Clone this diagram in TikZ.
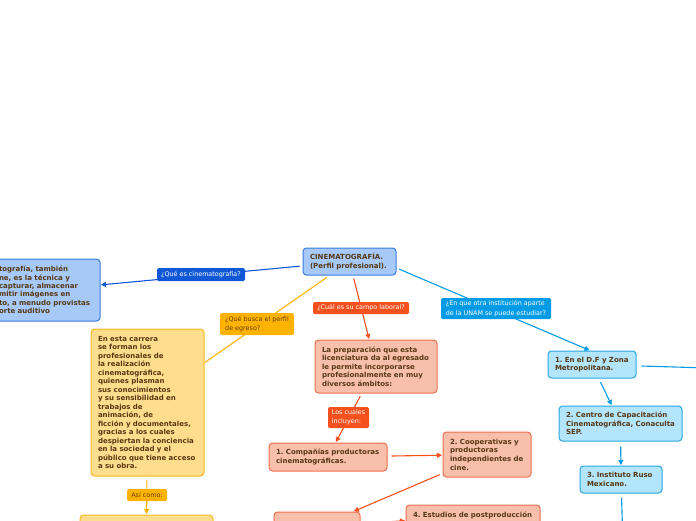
\documentclass[tikz,border=0pt]{standalone}
\usepackage{fontspec}
\setmainfont{DejaVu Sans}
\usetikzlibrary{arrows.meta}
\frenchspacing
\hyphenpenalty=10000
\exhyphenpenalty=10000

\definecolor{txtbrown}{RGB}{87,56,20}
\definecolor{lblbrown}{RGB}{96,62,0}
\definecolor{blueFill}{RGB}{166,201,248}
\definecolor{blueDraw}{RGB}{58,124,224}
\definecolor{blueLine}{RGB}{17,88,214}
\definecolor{yellowFill}{RGB}{255,221,140}
\definecolor{yellowDraw}{RGB}{247,185,40}
\definecolor{yellowLine}{RGB}{255,179,0}
\definecolor{redFill}{RGB}{248,191,170}
\definecolor{redDraw}{RGB}{240,110,78}
\definecolor{redLine}{RGB}{244,81,30}
\definecolor{cyanFill}{RGB}{179,229,252}
\definecolor{cyanDraw}{RGB}{41,168,226}
\definecolor{cyanLine}{RGB}{3,155,229}

\tikzstyle{link}=[shorten >=0.5pt,shorten <=3pt,->,line width=1.1pt]
\tikzstyle{box}=[rectangle,rounded corners=3.5pt,line width=1pt,inner xsep=7pt,inner ysep=0pt,align=left,text=txtbrown,font=\bfseries\fontsize{7}{8.6}\selectfont]
\tikzstyle{lbl}=[rectangle,rounded corners=1.5pt,inner xsep=3.5pt,inner ysep=0pt,align=left,text=white,font=\fontsize{6.4}{9.4}\selectfont]

\begin{document}
\begin{tikzpicture}[x=1pt,y=-1pt,>={Triangle[length=5pt,width=5pt]}]
				\useasboundingbox (0,0) rectangle (696,520);
				\clip (0,0) rectangle (696,520);

				%The central topic
				\draw (349.5,261.5) node[box, fill=blueFill, draw=blueDraw, minimum height=27pt, text width=79pt] (root) {CINEMATOGRAFÍA.\\(Perfil profesional).};

				%The definition (cut by the left edge)
				\draw (46,290) node[box, fill=blueFill, draw=blueDraw, minimum height=62pt, text width=94pt, font=\bfseries\fontsize{7}{8.35}\selectfont] (def) {tografía, también\\ne, es la técnica y\\capturar, almacenar\\mitir imágenes en\\to, a menudo provistas\\orte auditivo};

				%The profile branch
				\draw (147.5,402.5) node[box, fill=yellowFill, draw=yellowDraw, minimum height=147pt, text width=99pt, font=\bfseries\fontsize{7}{8.5}\selectfont] (perfil) {En esta carrera\\se forman los\\profesionales de\\la realización\\cinematográfica,\\quienes plasman\\sus conocimientos\\y su sensibilidad en\\trabajos de\\animación, de\\ficción y documentales,\\gracias a los cuales\\despiertan la conciencia\\en la sociedad y el\\público que tiene acceso\\a su obra.};
				\draw (146.5,530) node[box, fill=yellowFill, draw=yellowDraw, minimum height=30pt, text width=119pt] (asicomo) {};

				%The job field branch
				\draw (376,366.5) node[box, fill=redFill, draw=redDraw, minimum height=53pt, text width=108pt] (campo) {La preparación que esta\\licenciatura da al egresado\\le permite incorporarse\\profesionalmente en muy\\diversos ámbitos:};
				\draw (328,457) node[box, fill=redFill, draw=redDraw, minimum height=28pt, text width=104pt] (companias) {1. Compañías productoras\\cinematográficas.};
				\draw (487,454.5) node[box, fill=redFill, draw=redDraw, minimum height=45pt, text width=74pt] (cooperativas) {2. Cooperativas y\\productoras\\independientes de\\cine.};
				\draw (317,527) node[box, fill=redFill, draw=redDraw, minimum height=30pt, text width=72pt] (tercero) {};
				\draw (473,515.7) node[box, fill=redFill, draw=redDraw, minimum height=21.4pt, text width=120pt] (estudios) {4. Estudios de postproducción};

				%The other schools branch
				\draw (592,364.5) node[box, fill=cyanFill, draw=cyanDraw, minimum height=27pt, text width=74pt] (dfzona) {1. En el D.F y Zona\\Metropolitana.};
				\draw (620.5,423.5) node[box, fill=cyanFill, draw=cyanDraw, minimum height=35pt, text width=109pt] (centro) {2. Centro de Capacitación\\Cinematográfica, Conaculta\\SEP.};
				\draw (621,479.5) node[box, fill=cyanFill, draw=cyanDraw, minimum height=27pt, text width=68pt] (ruso) {3. Instituto Ruso\\Mexicano.};
				\coordinate (offright) at (740,369);
				\coordinate (offbottom) at (623,545);

				%The connectors
				\draw[link, blueLine] (root) -- (def);
				\draw[link, yellowLine, -] (root) -- (perfil);
				\draw[link, redLine] (root) -- (campo);
				\draw[link, cyanLine] ([yshift=-6.5pt]root.east) -- ([xshift=-2pt]dfzona.north);
				\draw[link, yellowLine] (perfil) -- (asicomo);
				\draw[link, redLine] (campo) -- (companias);
				\draw[link, redLine, shorten <=4pt] (companias) -- (cooperativas);
				\draw[link, redLine] (cooperativas) -- (tercero);
				\draw[link, redLine] (tercero) -- (estudios);
				\draw[link, cyanLine, shorten <=5pt] (dfzona) -- (offright);
				\draw[link, cyanLine, shorten <=4pt] (dfzona) -- (centro);
				\draw[link, cyanLine, shorten <=5pt] (centro) -- (ruso);
				\draw[link, cyanLine, shorten <=4pt] (ruso) -- (offbottom);

				%The connector labels
				\draw (201,274.5) node[lbl, fill=blueLine, minimum width=88pt, minimum height=13pt] (qdef) {¿Qué es cinematografía?};
				\draw (257,324) node[lbl, fill=yellowLine, text=lblbrown, minimum width=74pt, minimum height=22pt] (qperfil) {¿Qué busca el perfil\\de egreso?};
				\draw (361,308) node[lbl, fill=redLine, minimum width=96pt, minimum height=12pt] (qcampo) {¿Cuál es su campo laboral?};
				\draw (348.5,417.5) node[lbl, fill=redLine, minimum width=41pt, minimum height=21pt] (qcuales) {Los cuales\\incluyen:};
				\draw (496,308.5) node[lbl, fill=cyanLine, minimum width=110pt, minimum height=21pt] (qotra) {¿En que otra institución aparte\\de la UNAM se puede estudiar?};
				\draw (147,495) node[lbl, fill=yellowLine, text=lblbrown, minimum width=40pt, minimum height=12pt] (qasi) {Así como:};
			\end{tikzpicture}
\end{document}
